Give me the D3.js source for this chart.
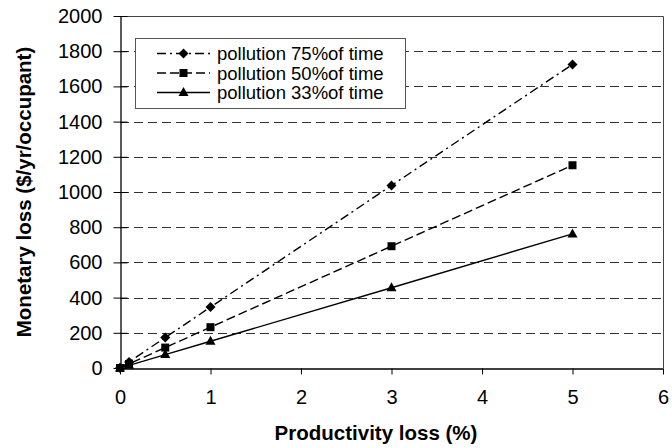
<!DOCTYPE html>
<html><head><meta charset="utf-8">
<script src="https://cdn.jsdelivr.net/npm/d3@7"></script>
<style>body{margin:0;background:#fff}svg{display:block}text{font-family:"Liberation Sans",Arial,sans-serif;fill:#000}</style>
</head><body>
<script>
const xValues = [0, 0.1, 0.5, 1, 3, 5];
const pollution75 = [0, 34.5, 173, 346, 1037, 1725];
const pollution50 = [0, 23, 116, 232, 692, 1152];
const pollution33 = [0, 15, 76, 152, 456, 762];
const seriesNames = ["pollution 75%of time", "pollution 50%of time", "pollution 33%of time"];
const xTicks = [0, 1, 2, 3, 4, 5, 6];
const yTicks = [0, 200, 400, 600, 800, 1000, 1200, 1400, 1600, 1800, 2000];
const xTitle = "Productivity loss (%)";
const yTitle = "Monetary loss ($/yr/occupant)";

const W = 672, H = 448;
const svg = d3.select("body").append("svg").attr("width", W).attr("height", H);
const x = d3.scaleLinear().domain([0, 6]).range([120, 663]);
const y = d3.scaleLinear().domain([0, 2000]).range([368, 16]);

// gridlines
svg.append("g").selectAll("line").data(yTicks.filter(d => d > 0 && d < 2000)).join("line")
  .attr("x1", x(0)).attr("x2", x(6))
  .attr("y1", d => Math.round(y(d)) + 0.5).attr("y2", d => Math.round(y(d)) + 0.5)
  .attr("stroke", "#333").attr("stroke-width", 1).attr("stroke-dasharray", "9,5");

// plot border top & right
svg.append("path")
  .attr("d", `M${x(0)},${Math.round(y(2000))+0.5}H${Math.round(x(6))+0.5}V${y(0)}`)
  .attr("fill", "none").attr("stroke", "#444").attr("stroke-width", 1);

// axes
const yAxis = svg.append("g").attr("transform", `translate(${Math.round(x(0))+0.5},0)`)
  .call(d3.axisLeft(y).tickValues(yTicks).tickFormat(d3.format("d")).tickSize(0).tickPadding(18));
yAxis.select(".domain").attr("stroke", "#000").attr("stroke-width", 1.3);
yAxis.selectAll(".tick").append("line").attr("x1", -7).attr("x2", 7).attr("stroke", "#000");
yAxis.selectAll("text").style("font-size", "20px").attr("fill", "#000")
  .attr("font-family", "Liberation Sans, Arial, sans-serif");

const xAxis = svg.append("g").attr("transform", `translate(0,${Math.round(y(0))+0.5})`)
  .call(d3.axisBottom(x).tickValues(xTicks).tickFormat(d3.format("d")).tickSize(6).tickPadding(15).tickSizeOuter(0));
xAxis.select(".domain").attr("stroke", "#000").attr("stroke-width", 1.3);
xAxis.selectAll(".tick line").attr("stroke", "#000");
xAxis.selectAll("text").style("font-size", "20px").attr("fill", "#000")
  .attr("font-family", "Liberation Sans, Arial, sans-serif");

// titles
svg.append("text").attr("x", 376).attr("y", 440).attr("text-anchor", "middle")
  .style("font-size", "20.5px").style("font-weight", "bold").text(xTitle);
svg.append("text").attr("transform", `translate(31,${(y(0)+y(2000))/2}) rotate(-90)`)
  .attr("text-anchor", "middle").style("font-size", "20.5px").style("font-weight", "bold").text(yTitle);

// markers
function marker(g, type, cx, cy) {
  if (type === "diamond") {
    g.append("path").attr("d", `M${cx},${cy-5}L${cx+5},${cy}L${cx},${cy+5}L${cx-5},${cy}Z`).attr("fill", "#000");
  } else if (type === "square") {
    g.append("rect").attr("x", cx-4).attr("y", cy-4).attr("width", 8).attr("height", 8).attr("fill", "#000");
  } else {
    g.append("path").attr("d", `M${cx},${cy-5.5}L${cx+5},${cy+3.5}L${cx-5},${cy+3.5}Z`).attr("fill", "#000");
  }
}

const series = [
  {name: seriesNames[0], values: pollution75, dash: "9,4,2,4", marker: "diamond"},
  {name: seriesNames[1], values: pollution50, dash: "9,4", marker: "square"},
  {name: seriesNames[2], values: pollution33, dash: null, marker: "triangle"}
];
const line = d3.line().x((d, i) => x(xValues[i])).y(d => y(d));
series.forEach(s => {
  const g = svg.append("g");
  g.append("path").datum(s.values).attr("d", line).attr("fill", "none")
    .attr("stroke", "#000").attr("stroke-width", 1.4)
    .attr("stroke-dasharray", s.dash);
  s.values.forEach((v, i) => marker(g, s.marker, x(xValues[i]), y(v)));
});

// legend
const lg = svg.append("g");
lg.append("rect").attr("x", 135.5).attr("y", 38.5).attr("width", 270).attr("height", 70)
  .attr("fill", "#fff").attr("stroke", "#555").attr("stroke-width", 1);
const rowY = [53.5, 73, 92.5];
series.forEach((s, i) => {
  lg.append("line").attr("x1", 157).attr("x2", 210).attr("y1", rowY[i]).attr("y2", rowY[i])
    .attr("stroke", "#000").attr("stroke-width", 1.4).attr("stroke-dasharray", s.dash);
  marker(lg, s.marker, 183.5, rowY[i]);
  lg.append("text").attr("x", 217).attr("y", rowY[i] + 6.5).style("font-size", "18.5px").text(s.name);
});
</script>
</body></html>
